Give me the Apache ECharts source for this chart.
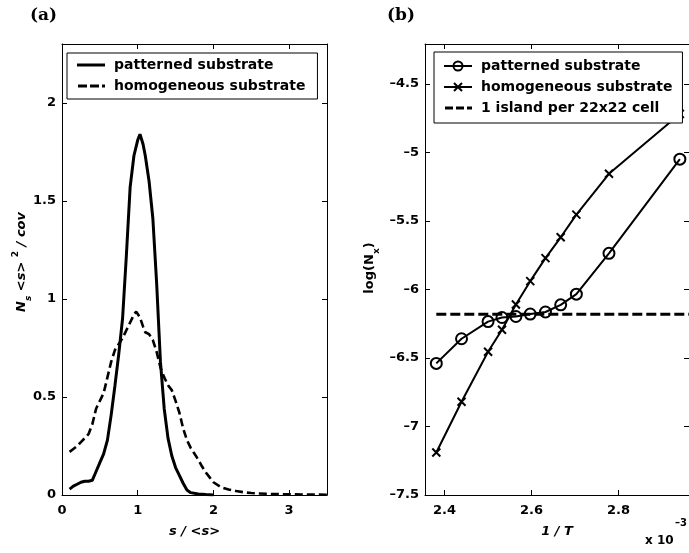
<!DOCTYPE html>
<html><head><meta charset="utf-8">
<script src="https://cdn.jsdelivr.net/npm/echarts@6/dist/echarts.min.js"></script>
<style>html,body{margin:0;padding:0;background:#fff}#c{width:689px;height:553px}</style>
</head><body><div id="c"></div>
<script>
// ---- panel (a) data ----
const sPat = [0.1,0.15,0.2,0.25,0.3,0.35,0.4,0.45,0.5,0.55,0.6,0.65,0.7,0.75,0.8,0.85,0.9,0.95,1.0,1.03,1.07,1.1,1.15,1.2,1.25,1.3,1.35,1.4,1.45,1.5,1.55,1.6,1.65,1.7,1.8,1.9,2.0];
const nPat = [0.03,0.045,0.055,0.065,0.07,0.07,0.075,0.12,0.165,0.21,0.28,0.41,0.56,0.72,0.9,1.22,1.57,1.73,1.81,1.84,1.79,1.73,1.6,1.41,1.08,0.68,0.44,0.29,0.2,0.14,0.1,0.06,0.025,0.012,0.005,0.002,0.0];
const sHom = [0.1,0.15,0.2,0.25,0.3,0.35,0.4,0.45,0.5,0.55,0.6,0.65,0.7,0.75,0.8,0.85,0.9,0.95,0.98,1.0,1.03,1.07,1.1,1.15,1.2,1.25,1.3,1.35,1.4,1.45,1.5,1.55,1.6,1.65,1.7,1.75,1.8,1.85,1.9,1.95,2.0,2.1,2.2,2.3,2.4,2.5,2.6,2.7,2.8,2.9,3.0,3.2,3.4,3.5];
const nHom = [0.22,0.235,0.25,0.27,0.29,0.31,0.36,0.44,0.48,0.52,0.6,0.68,0.74,0.77,0.8,0.84,0.88,0.92,0.935,0.93,0.905,0.86,0.83,0.82,0.79,0.73,0.65,0.6,0.56,0.535,0.48,0.42,0.34,0.28,0.24,0.21,0.18,0.145,0.115,0.09,0.065,0.04,0.028,0.02,0.014,0.01,0.008,0.006,0.005,0.004,0.004,0.002,0.002,0.001];
const ticksAx = [0,1,2,3];
const ticksAy = [0,0.5,1,1.5,2];

// ---- panel (b) data (x in units of 1e-3) ----
const invT   = [2.381,2.439,2.500,2.532,2.564,2.597,2.632,2.667,2.703,2.778,2.941];
const logPat = [-6.54,-6.36,-6.235,-6.205,-6.198,-6.18,-6.165,-6.113,-6.035,-5.737,-5.05];
const logHom = [-7.19,-6.82,-6.455,-6.295,-6.11,-5.94,-5.772,-5.62,-5.455,-5.157,-4.72];
const islandX = [2.381,2.962];
const islandY = [-6.182,-6.182];
const ticksBx = [2.4,2.6,2.8];
const ticksBy = [-7.5,-7,-6.5,-6,-5.5,-5,-4.5];

const zip = (a,b) => a.map((v,i)=>[v,b[i]]);
const FONT = 'DejaVu Sans';
const lbl = {fontFamily:FONT, fontWeight:'bold', fontSize:13, color:'#000'};
const dash = v => String(v).replace('-', '\u2013');

function xAx(grid, min, max, ticks, pos, withLabels, name) {
  return {
    type:'value', gridIndex:grid, min:min, max:max, position:pos,
    axisLine:{show:true, onZero:false, lineStyle:{color:'#000', width:1}},
    axisTick:{show:true, inside:true, length:5, customValues:ticks, lineStyle:{color:'#000', width:1}},
    axisLabel:Object.assign({show:withLabels, customValues:ticks, margin:9, formatter:v=>String(v)}, lbl),
    splitLine:{show:false},
    name: name || '', nameLocation:'middle', nameGap:30,
    nameTextStyle:{fontFamily:FONT, fontWeight:'bold', fontStyle:'italic', fontSize:13, color:'#000'}
  };
}
function yAx(grid, min, max, ticks, pos, withLabels, fmt) {
  return {
    type:'value', gridIndex:grid, min:min, max:max, position:pos,
    axisLine:{show:true, onZero:false, lineStyle:{color:'#000', width:1}},
    axisTick:{show:true, inside:true, length:5, customValues:ticks, lineStyle:{color:'#000', width:1}},
    axisLabel:Object.assign({show:withLabels, customValues:ticks, margin:6, formatter:fmt}, lbl),
    splitLine:{show:false}
  };
}

const crossPath = 'path://M0,0L10,10M10,0L0,10';
// legend sample icons (28 x 14 box)
const icSolid  = 'path://M0,0M28,14M0,5.5h28v3h-28z';
const icDashA  = 'path://M0,0M28,14M1,5.5h9v3h-9zM13,5.5h9v3h-9zM25,5.5h3v3h-3z';
const icCircle = 'path://M0,0M28,14M0,6h28v2h-28zM8.5,7A5.5,5.5 0 1,1 19.5,7A5.5,5.5 0 1,1 8.5,7zM10.5,7A3.5,3.5 0 1,0 17.5,7A3.5,3.5 0 1,0 10.5,7z';
const icCross  = 'path://M0,0M28,14M0,6h28v2h-28zM9.3,3.7L10.7,2.3L18.7,10.3L17.3,11.7zM17.3,2.3L18.7,3.7L10.7,11.7L9.3,10.3z';
const icDashB  = 'path://M0,0M28,14M1,5.5h8v3h-8zM12,5.5h8v3h-8zM23,5.5h5v3h-5z';

const legendText = {fontFamily:FONT, fontWeight:'bold', fontSize:14, color:'#000', padding:[0,0,0,4]};
const legendBase = {orient:'vertical', itemWidth:28, itemHeight:14, backgroundColor:'#fff',
  borderColor:'#000', borderWidth:1, borderRadius:0, selectedMode:false, textStyle:legendText,
  itemStyle:{color:'#000', borderWidth:0, borderColor:'#000'}, symbolKeepAspect:true,
  formatter:n=>n.trim()};

const option = {
  animation:false,
  backgroundColor:'#fff',
  grid:[
    {left:62, right:362, top:44, bottom:58},
    {left:425, right:0, top:44, bottom:58}
  ],
  xAxis:[
    xAx(0, 0, 3.5, ticksAx, 'bottom', true, 's / <s>'),
    xAx(0, 0, 3.5, ticksAx, 'top', false),
    xAx(1, 2.355, 2.962, ticksBx, 'bottom', true, '1 / T'),
    xAx(1, 2.355, 2.962, ticksBx, 'top', false)
  ],
  yAxis:[
    yAx(0, 0, 2.3, ticksAy, 'left', true, v=>String(v)),
    yAx(0, 0, 2.3, ticksAy, 'right', false, v=>String(v)),
    yAx(1, -7.5, -4.21, ticksBy, 'left', true, dash),
    yAx(1, -7.5, -4.21, ticksBy, 'right', false, dash)
  ],
  legend:[
    Object.assign({}, legendBase, {
      data:[{name:'patterned substrate', icon:icSolid},{name:'homogeneous substrate', icon:icDashA}],
      left:67, top:53, padding:[5,12,6,10], itemGap:7}),
    Object.assign({}, legendBase, {
      data:[{name:'patterned substrate ', icon:icCircle},{name:'homogeneous substrate ', icon:icCross},{name:'1 island per 22x22 cell', icon:icDashB}],
      left:434, top:52, padding:[7,10,8,10], itemGap:7})
  ],
  series:[
    {name:'patterned substrate', type:'line', xAxisIndex:0, yAxisIndex:0, data:zip(sPat,nPat),
     symbol:'none', lineStyle:{color:'#000', width:3}, itemStyle:{color:'#000'}},
    {name:'homogeneous substrate', type:'line', xAxisIndex:0, yAxisIndex:0, data:zip(sHom,nHom),
     symbol:'none', lineStyle:{color:'#000', width:2.6, type:[8,4]}, itemStyle:{color:'#000'}},
    {name:'patterned substrate ', type:'line', xAxisIndex:2, yAxisIndex:2, data:zip(invT,logPat),
     symbol:'circle', symbolSize:11, lineStyle:{color:'#000', width:2},
     itemStyle:{color:'rgba(0,0,0,0)', borderColor:'#000', borderWidth:2}},
    {name:'homogeneous substrate ', type:'line', xAxisIndex:2, yAxisIndex:2, data:zip(invT,logHom),
     symbol:crossPath, symbolSize:8, lineStyle:{color:'#000', width:2},
     itemStyle:{color:'rgba(0,0,0,0)', borderColor:'#000', borderWidth:2}},
    {name:'1 island per 22x22 cell', type:'line', xAxisIndex:2, yAxisIndex:2, data:zip(islandX,islandY),
     symbol:'none', lineStyle:{color:'#000', width:3, type:[10,4]}, itemStyle:{color:'#000'}}
  ],
  graphic:[
    {type:'text', left:30, top:7, style:{text:'(a)', font:'bold 17px "DejaVu Serif"', fill:'#000'}},
    {type:'text', left:387, top:7, style:{text:'(b)', font:'bold 17px "DejaVu Serif"', fill:'#000'}},
    {type:'text', x:22, y:262, rotation:Math.PI/2,
     style:{x:0, y:0, align:'center', verticalAlign:'middle', fill:'#000',
       text:'{i|N}{sub|s}{i| <s> }{sup|2}{i| / cov}',
       rich:{
         i:{fontFamily:FONT, fontWeight:'bold', fontStyle:'italic', fontSize:13, lineHeight:22, verticalAlign:'middle'},
         sub:{fontFamily:FONT, fontWeight:'bold', fontStyle:'italic', fontSize:9, verticalAlign:'bottom'},
         sup:{fontFamily:FONT, fontWeight:'bold', fontSize:9, verticalAlign:'top'}
       }}},
    {type:'text', x:370, y:268, rotation:Math.PI/2,
     style:{x:0, y:0, align:'center', verticalAlign:'middle', fill:'#000',
       text:'{n|log(N}{sub|x}{n|)}',
       rich:{
         n:{fontFamily:FONT, fontWeight:'bold', fontSize:13, lineHeight:22, verticalAlign:'middle'},
         sub:{fontFamily:FONT, fontWeight:'bold', fontSize:9, verticalAlign:'bottom'}
       }}},
    {type:'text', x:645, y:541, style:{x:0, y:0, text:'x 10', verticalAlign:'middle', font:'bold 12px "DejaVu Sans"', fill:'#000'}},
    {type:'text', x:675, y:523, style:{x:0, y:0, text:'\u20133', verticalAlign:'middle', font:'bold 10px "DejaVu Sans"', fill:'#000'}}
  ]
};
const chart = echarts.init(document.getElementById('c'), null, {renderer:'canvas'});
chart.setOption(option);
</script></body></html>
